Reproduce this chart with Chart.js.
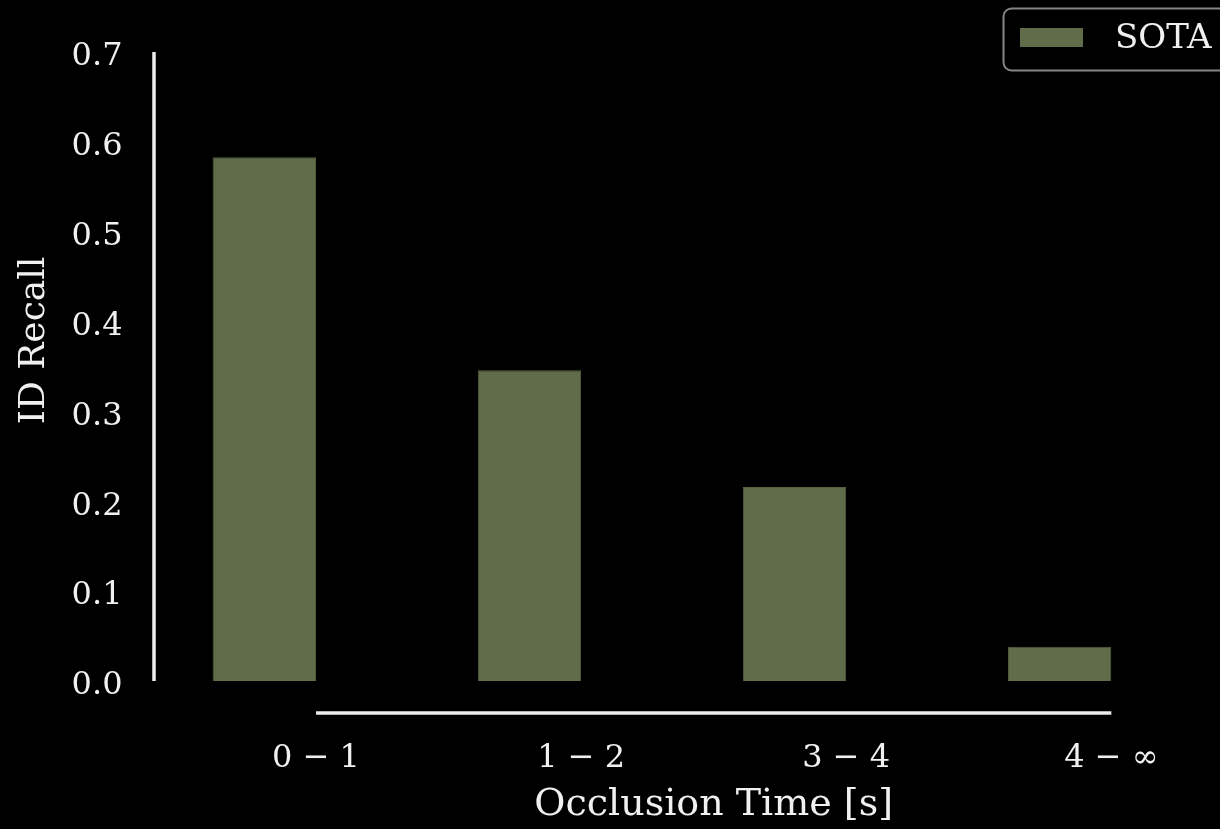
<!DOCTYPE html>
<html>
<head>
<meta charset="utf-8">
<script src="https://cdn.jsdelivr.net/npm/chart.js@4"></script>
<style>
  html, body { margin: 0; padding: 0; background: #000; }
  #wrap { width: 1220px; height: 829px; }
</style>
</head>
<body>
<div id="wrap"><canvas id="chart"></canvas></div>
<script>
// occlusion time buckets and ID recall per bucket
const categories = ['0 − 1', '1 − 2', '3 − 4', '4 − ∞'];
const sotaRecall = [0.583, 0.346, 0.216, 0.038];
const yTicks = [0.0, 0.1, 0.2, 0.3, 0.4, 0.5, 0.6, 0.7];
const xTitle = 'Occlusion Time [s]';

const TEXT = '#f0f0f0';
const SPINE = '#ececec';
const FONT = '"DejaVu Serif", serif';
Chart.defaults.font.family = FONT;
Chart.defaults.color = TEXT;

// seaborn-style offset + trimmed spines, x label centred on the (cropped) axes, boxed legend
const spines = {
  id: 'spines',
  afterDraw(chart) {
    const { ctx, chartArea, scales: { x, y } } = chart;
    ctx.save();
    ctx.strokeStyle = SPINE;
    ctx.lineWidth = 3.5;
    const sx = chartArea.left - 29.5;
    ctx.beginPath();
    ctx.moveTo(sx, y.getPixelForValue(yTicks[0]));
    ctx.lineTo(sx, y.getPixelForValue(yTicks[yTicks.length - 1]));
    ctx.stroke();
    const sy = chartArea.bottom + 32;
    ctx.beginPath();
    ctx.moveTo(x.getPixelForValue(0), sy);
    ctx.lineTo(x.getPixelForValue(categories.length - 1), sy);
    ctx.stroke();

    ctx.fillStyle = TEXT;
    ctx.font = `38px ${FONT}`;
    ctx.textAlign = 'center';
    ctx.textBaseline = 'middle';
    ctx.fillText(xTitle, x.getPixelForValue((categories.length - 1) / 2), x.bottom - 24);

    // legend
    const ds = chart.data.datasets[0];
    ctx.strokeStyle = '#858585';
    ctx.lineWidth = 2;
    ctx.beginPath();
    ctx.roundRect(1003.5, 8.5, 260, 62, 8);
    ctx.stroke();
    ctx.fillStyle = ds.backgroundColor;
    ctx.fillRect(1020, 28, 63, 19);
    ctx.fillStyle = TEXT;
    ctx.font = `34px ${FONT}`;
    ctx.textAlign = 'left';
    ctx.fillText(ds.label, 1115, 39);
    ctx.restore();
  }
};

new Chart(document.getElementById('chart'), {
  type: 'bar',
  data: {
    datasets: [
      {
        label: 'SOTA',
        data: sotaRecall.map((v, i) => ({ x: i, y: v })),
        backgroundColor: '#616c4a',
        borderColor: '#56623f',
        borderWidth: 1,
        categoryPercentage: 0.78,
        barPercentage: 1
      },
      {
        // empty second hue slot, keeps SOTA bars on the left of each tick
        label: '',
        data: categories.map((_, i) => ({ x: i, y: null })),
        categoryPercentage: 0.78,
        barPercentage: 1
      }
    ]
  },
  options: {
    responsive: true,
    maintainAspectRatio: false,
    animation: false,
    layout: { padding: 0 },
    plugins: {
      legend: { display: false },
      tooltip: { enabled: false }
    },
    scales: {
      x: {
        type: 'linear',
        min: -0.5,
        max: 3.41,
        offset: false,
        grid: { display: false, drawTicks: false },
        border: { display: false },
        afterBuildTicks: (s) => { s.ticks = categories.map((_, i) => ({ value: i })); },
        afterFit: (s) => { s.height = 148; s.paddingLeft = 0; s.paddingRight = 0; },
        ticks: {
          autoSkip: false,
          maxRotation: 0,
          padding: 58,
          font: { size: 32 },
          callback: (v) => categories[v]
        },
        title: { display: false }
      },
      y: {
        min: 0,
        max: 0.758,
        grid: { display: false, drawTicks: false },
        border: { display: false },
        afterBuildTicks: (s) => { s.ticks = yTicks.map(v => ({ value: v })); },
        afterFit: (s) => { s.width = 183.5; s.paddingTop = 0; s.paddingBottom = 0; },
        ticks: {
          padding: 61,
          labelOffset: 5,
          font: { size: 32 },
          callback: (v) => Number(v).toFixed(1)
        },
        title: {
          display: true,
          text: 'ID Recall',
          font: { size: 36 },
          padding: { top: 13, bottom: 0 }
        }
      }
    }
  },
  plugins: [spines]
});
</script>
</body>
</html>
